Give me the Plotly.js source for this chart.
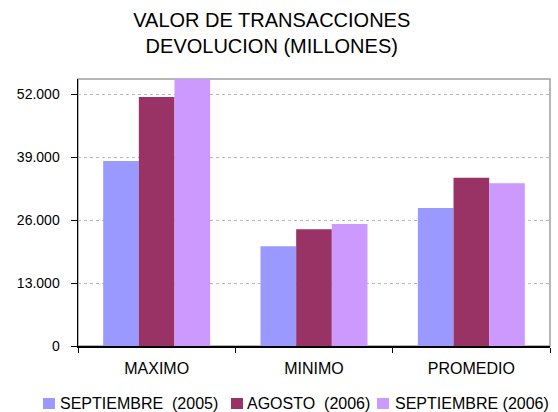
<!DOCTYPE html>
<html>
<head>
<meta charset="utf-8">
<script src="https://cdn.plot.ly/plotly-3.0.1.min.js"></script>
<style>
  body { margin: 0; background: #fff; }
  #chart { width: 558px; height: 412px; }
</style>
</head>
<body>
<div id="chart"></div>
<script>
// --- data ---
const categories = ['MAXIMO', 'MINIMO', 'PROMEDIO'];
const seriesNames = ['SEPTIEMBRE\u00a0 (2005)', 'AGOSTO\u00a0 (2006)', 'SEPTIEMBRE (2006)'];
const sep2005 = [38200, 20600, 28500];
const ago2006 = [51400, 24100, 34700];
const sep2006 = [55300, 25200, 33600];
const yTicks = [0, 13000, 26000, 39000, 52000];

const colors = ['#9999ff', '#993366', '#cc99ff'];
const font = 'Arial, "Liberation Sans", sans-serif';

// plot area in pixels, used to place the hand-made legend
const L = 78, R = 550, T = 79, B = 346;
const px = x => (x - L) / (R - L);
const py = y => (B - y) / (B - T);

const values = [sep2005, ago2006, sep2006];
const traces = values.map((v, i) => ({
    type: 'bar',
    x: categories,
    y: v,
    name: seriesNames[i],
    marker: { color: colors[i], line: { width: 0 } },
    showlegend: false,
    hoverinfo: 'x+y'
}));

// legend: square + label per series
const legendSquareX = [43, 231, 377];
const legendTextX = [58, 244.5, 392.5];
let shapes = [{
    type: 'rect', xref: 'paper', yref: 'paper', x0: 0, x1: 1, y0: 0, y1: 1,
    line: { color: '#a0a0a0', width: 1.5 }, layer: 'below'
}];
let annotations = [];
seriesNames.forEach((name, i) => {
    shapes.push({
        type: 'rect', xref: 'paper', yref: 'paper',
        x0: px(legendSquareX[i]), x1: px(legendSquareX[i] + 12),
        y0: py(409), y1: py(398),
        fillcolor: colors[i], line: { width: 0 }
    });
    annotations.push({
        xref: 'paper', yref: 'paper', x: px(legendTextX[i]), y: py(403.5),
        xanchor: 'left', yanchor: 'middle', showarrow: false,
        text: name, font: { family: font, size: 16, color: '#000' }
    });
});

const layout = {
    width: 558, height: 412,
    margin: { l: L, r: 558 - R, t: T, b: 412 - B },
    paper_bgcolor: '#fff', plot_bgcolor: '#fff',
    separators: ',.',
    font: { family: font, color: '#000' },
    title: {
        text: 'VALOR DE TRANSACCIONES<br>DEVOLUCION (MILLONES)',
        font: { family: font, size: 20, color: '#000' },
        x: 0.487, xanchor: 'center', y: 0.934, yanchor: 'top'
    },
    bargap: 0.32, bargroupgap: 0,
    barmode: 'group',
    xaxis: {
        showline: true, linecolor: '#000', linewidth: 1.5,
        ticks: 'outside', tickson: 'boundaries', ticklen: 5, tickcolor: '#000',
        tickfont: { family: font, size: 16, color: '#000' },
        ticklabelstandoff: 7,
        showgrid: false
    },
    yaxis: {
        range: [0, 55100],
        tickvals: yTicks, tickformat: ',.0f',
        showline: true, linecolor: '#000', linewidth: 1.5,
        ticks: 'outside', ticklen: 6, tickcolor: '#000',
        tickfont: { family: font, size: 14, color: '#000' },
        ticklabelstandoff: 8,
        showgrid: true, gridcolor: '#b8b8b8', griddash: 'dot', gridwidth: 1,
        zeroline: false
    },
    shapes: shapes,
    annotations: annotations
};

Plotly.newPlot('chart', traces, layout, { displayModeBar: false, staticPlot: true });
</script>
</body>
</html>
